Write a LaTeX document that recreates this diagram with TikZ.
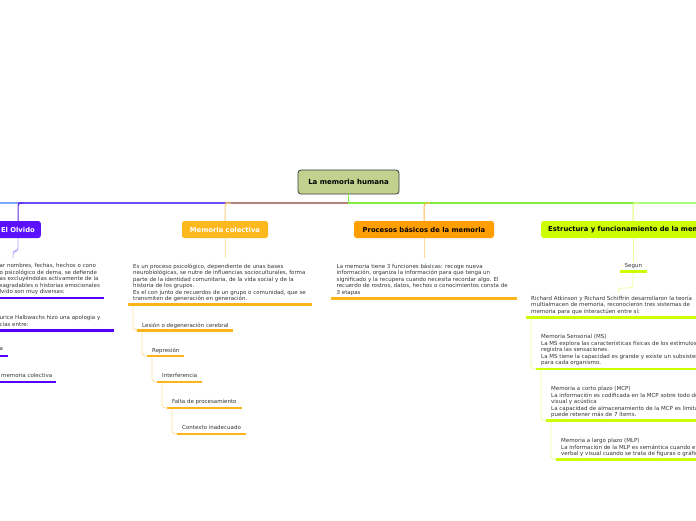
\documentclass[tikz,border=0pt]{standalone}
\usepackage{fontspec}
\setmainfont{DejaVu Sans}
\definecolor{rootfill}{HTML}{C3D18F}
\definecolor{rootborder}{HTML}{3A3A3A}
\definecolor{olvfill}{HTML}{5B10FF}
\definecolor{colfill}{HTML}{FDB81E}
\definecolor{procfill}{HTML}{FF9E00}
\definecolor{estfill}{HTML}{CCFF00}
\definecolor{olvul}{HTML}{5500FF}
\definecolor{colul}{HTML}{FBB41A}
\definecolor{estul}{HTML}{CCFF00}
\definecolor{barviolet}{HTML}{6B4DFF}
\definecolor{barbrown}{HTML}{B3817F}
\definecolor{bargreen}{HTML}{7FEF3F}
\definecolor{barlight}{HTML}{A8FF80}
\definecolor{barblue}{HTML}{7FA7FF}
\definecolor{olvdrop}{HTML}{5A2BE0}
\definecolor{coldrop}{HTML}{FFCF7F}
\definecolor{procdrop}{HTML}{FFB54A}
\definecolor{estdrop}{HTML}{E2FF6A}
\definecolor{olvthin}{HTML}{B6A6FF}
\definecolor{colthin}{HTML}{FFE2A0}
\definecolor{procthin}{HTML}{FFD899}
\definecolor{estthin}{HTML}{ECFF9E}
\definecolor{txt}{HTML}{333333}
\begin{document}
\begin{tikzpicture}[x=1pt,y=-1pt,
  body/.style={anchor=north west, inner sep=0pt, align=left, text=txt, yshift=-1.3pt, font=\fontsize{5.5}{6.5}\selectfont},
  topic/.style={rounded corners=2.5pt, minimum height=17pt, inner xsep=6pt, inner ysep=0pt, font=\fontsize{6.8}{8}\selectfont\bfseries},
  uline/.style={line width=2.6pt},
  bar/.style={line width=1.6pt},
  drop/.style={line width=1pt, rounded corners=3pt},
  thinline/.style={line width=0.9pt, rounded corners=3.5pt},
]
\useasboundingbox (0,0) rectangle (696,520);
\clip (0,0) rectangle (696,520);

% root
\node[draw=rootborder, fill=rootfill, line width=0.8pt, rounded corners=3pt, minimum width=101pt, minimum height=24pt, font=\fontsize{7}{8}\selectfont\bfseries] (root) at (348.5,182) {La memoria humana};

% main topics
\node[topic, fill=olvfill, text=white, anchor=east] (olvido) at (41,229.5) {El Olvido};
\node[topic, fill=colfill, text=white, minimum width=86pt] (colectiva) at (225,229.5) {Memoria colectiva};
\node[topic, fill=procfill, text=black, minimum width=140pt] (procesos) at (424,229.5) {Procesos básicos de la memoria};
\node[topic, fill=estfill, text=black, anchor=west, inner xsep=7pt] (estructura) at (541,229.5) {Estructura y funcionamiento de la memoria};

% bar coordinates
\coordinate (barc) at (348.5,203);
\coordinate (olvtop) at (18,221);
\coordinate (esttop) at (633,221);
\coordinate (offleft) at (-5,203);
\coordinate (offright) at (705,203);

% main bar
\draw[bar, barblue] (offleft) -- (olvtop |- barc);
\draw[bar, barviolet] (olvtop |- barc) -- (colectiva.north |- barc);
\draw[bar, barbrown] (colectiva.north |- barc) -- (barc);
\draw[bar, bargreen] (root.south) -- (barc) -- (esttop |- barc);
\draw[bar, barlight] (esttop |- barc) -- (offright);

% drops
\draw[drop, olvdrop] ([xshift=6pt]olvtop |- barc) -| (olvtop);
\draw[drop, coldrop] ([xshift=6pt]colectiva.north |- barc) -| (colectiva.north);
\draw[drop, procdrop] ([xshift=6pt]procesos.north |- barc) -| (procesos.north);
\draw[drop, estdrop] ([xshift=6pt]esttop |- barc) -| (esttop);

% thin lines under topics
\coordinate (olvsub) at (13,258);
\draw[thinline, olvthin] (olvtop |- olvido.south) -- (18,251) -- (13,251) -- (olvsub);
\coordinate (colsub) at (225,258);
\draw[thinline, colthin] (colectiva.south) -- (colsub);
\coordinate (procsub) at (424,258);
\draw[thinline, procthin] (procesos.south) -- (procsub);
\coordinate (estsub) at (633,262);
\draw[thinline, estthin] (esttop |- estructura.south) -- (estsub);

% ---------- El Olvido ----------
\node[body] (olv1) at (-0.5,262.3) {ar nombres, fechas, hechos o cono\\o psicológico de dema, se defiende\\as excluyéndolas activamente de la\\sagradables o historias emocionales\\lvido son muy diversas:};
\draw[uline, olvul] (-3,298) -- (104,298);
\node[body] (olv2) at (-0.5,314.3) {urice Halbwachs hizo una apologia y\\cias entre:};
\draw[uline, olvul] (-3,330.5) -- (114,330.5);
\node[body] (olv3) at (-0.5,346.3) {a};
\draw[uline, olvul] (-3,356) -- (8,356);
\node[body] (olv4) at (1,372.3) {memoria colectiva};
\draw[uline, olvul] (-3,382) -- (56,382);

% ---------- Memoria colectiva ----------
\node[body] (col1) at (133,262.3) {Es un proceso psicológico, dependiente de unas bases\\neurobiológicas, se nutre de influencias socioculturales, forma\\parte de la identidad comunitaria, de la vida social y de la\\historia de los grupos.\\Es el con junto de recuerdos de un grupo o comunidad, que se\\transmiten de generación en generación.};
\draw[uline, colul] (128,304.5) -- (312,304.5);

\node[body] (les) at (142,321.3) {Lesión o degeneración cerebral};
\draw[uline, colul] (137,330.5) -- (233,330.5);
\node[body] (rep) at (152,346.3) {Represión};
\draw[uline, colul] (147,356) -- (184,356);
\node[body] (inter) at (162,372.3) {Interferencia};
\draw[uline, colul] (157,382) -- (202,382);
\node[body] (falta) at (172,397.8) {Falta de procesamiento};
\draw[uline, colul] (167,408) -- (242,408);
\node[body] (ctx) at (182,424.3) {Contexto inadecuado};
\draw[uline, colul] (177,434) -- (246,434);

\draw[thinline, colthin] (133,306) -- (133,330.5) -- (137,330.5);
\draw[thinline, colthin] (142,332) -- (142,356) -- (147,356);
\draw[thinline, colthin] (152,357.5) -- (152,382) -- (157,382);
\draw[thinline, colthin] (162,383.5) -- (162,408) -- (167,408);
\draw[thinline, colthin] (172,409.5) -- (172,434) -- (177,434);

% ---------- Procesos ----------
\node[body] (proc1) at (336.5,262.3) {La memoria tiene 3 funciones básicas: recoge nueva\\información, organiza la información para que tenga un\\significado y la recupera cuando necesita recordar algo. El\\recuerdo de rostros, datos, hechos o conocimientos consta de\\3 etapas};
\draw[uline, colul] (331,298.5) -- (517,298.5);

% ---------- Estructura ----------
\node[body] (segun) at (624.5,262.3) {Segun};
\draw[uline, estul] (620,271.5) -- (647,271.5);
\draw[thinline, estthin] (633,273) -- (633,288) -- (618,288) -- (618,293);

\node[body] (rich) at (531,294.3) {Richard Atkinson y Richard Schiffrin desarrollaron la teoría\\multialmacen de memoria, reconocieron tres sistemas de\\memoria para que interactúen entre sí:};
\draw[uline, estul] (526,317.5) -- (700,317.5);
\draw[thinline, estthin] (531,319) -- (531,369) -- (536,369);

\node[body] (ms) at (541,333.3) {Memoria Sensorial (MS)\\La MS explora las características físicas de los estímulos y\\registra las sensaciones.\\La MS tiene la capacidad es grande y existe un subsistema\\para cada organismo.};
\draw[uline, estul] (536,369) -- (700,369);
\draw[thinline, estthin] (541,370.5) -- (541,420.5) -- (546,420.5);

\node[body] (mcp) at (551,385.3) {Memoria a corto plazo (MCP)\\La información es codificada en la MCP sobre todo de\\visual y acústica\\La capacidad de almacenamiento de la MCP es limitada\\puede retener más de 7 ítems.};
\draw[uline, estul] (546,420.5) -- (700,420.5);
\draw[thinline, estthin] (551,422) -- (551,459.5) -- (556,459.5);

\node[body] (mlp) at (561,437.3) {Memoria a largo plazo (MLP)\\La información de la MLP es semántica cuando el\\verbal y visual cuando se trata de figuras o gráficos.};
\draw[uline, estul] (556,459.5) -- (700,459.5);
\end{tikzpicture}
\end{document}
